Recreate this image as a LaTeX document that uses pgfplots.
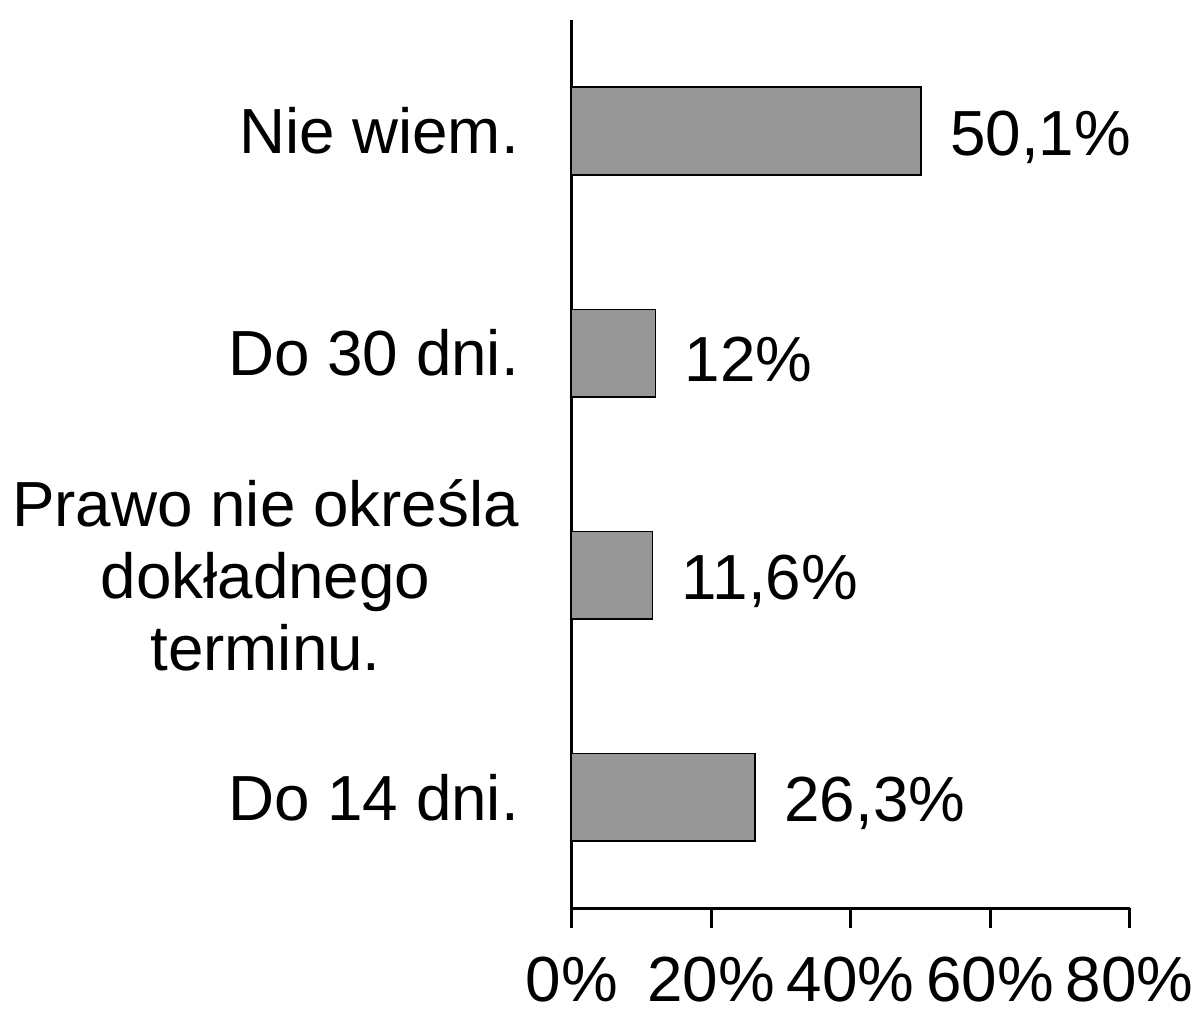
\documentclass[border=0pt]{standalone}
\usepackage{fontspec}
\setmainfont{Liberation Sans}
\usepackage{pgfplots}
\pgfplotsset{compat=1.18}
\begin{document}
\begin{tikzpicture}[x=1pt,y=1pt]
\begin{axis}[
  scale only axis,
  width=280pt, height=446pt,
  xbar, bar width=44pt,
  xmin=0, xmax=80, ymin=-0.5, ymax=3.5,
  axis lines*=left,
  every outer x axis line/.style={line width=1.5pt},
  every outer y axis line/.style={line width=1.5pt},
  axis line style={line width=1.5pt},
  xtick={0,20,40,60,80},
  xticklabels={0\%,20\%,40\%,60\%,80\%},
  tick align=outside,
  major tick length=10pt,
  x tick style={line width=1.5pt, black},
  ytick={0,1,2,3},
  yticklabels={Do 14 dni.,{Prawo nie określa\\dokładnego\\terminu.},Do 30 dni.,Nie wiem.},
  y tick style={draw=none},
  yticklabel style={align=center, font=\fontsize{32}{36}\selectfont, xshift=-13pt},
  xticklabel style={font=\fontsize{32}{36}\selectfont, yshift=-11pt},
  /pgf/number format/assume math mode=true,
  clip=false,
  nodes near coords,
  point meta=explicit symbolic,
  every node near coord/.style={anchor=west, xshift=11pt, yshift=-3pt, font=\fontsize{32}{36}\selectfont, black},
]
\addplot[fill={rgb,255:red,150;green,150;blue,150}, draw=black, line width=0.75pt]
  coordinates {(26.3,0) [26,3\%] (11.6,1) [11,6\%] (12,2) [12\%] (50.1,3) [50,1\%]};
\coordinate (bl) at (rel axis cs:0,0);
\coordinate (tr) at (rel axis cs:1,1);
\end{axis}
\path (bl) ++(-287pt,-49pt) coordinate (a);
\path (tr) ++(33.5pt,10pt) coordinate (b);
\path (a) rectangle (b);
\end{tikzpicture}
\end{document}
